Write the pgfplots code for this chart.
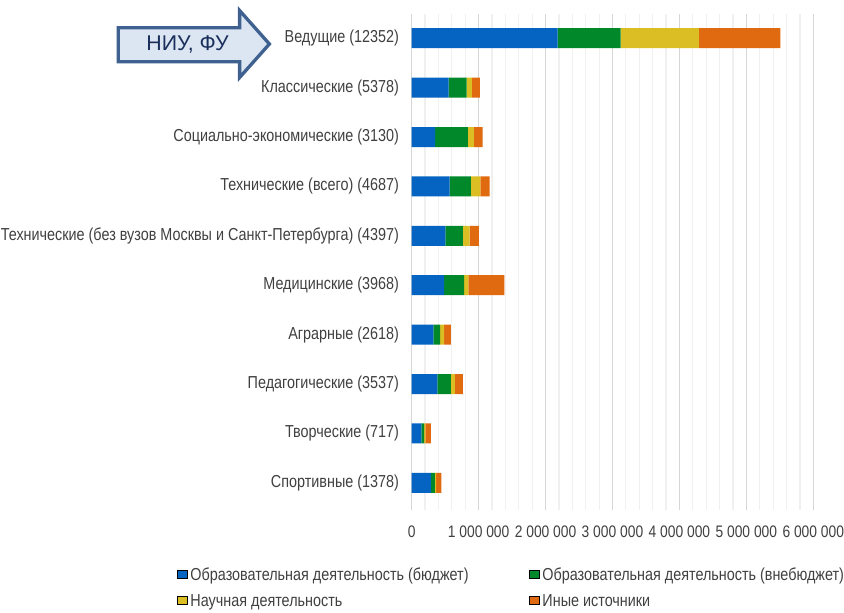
\documentclass[border=0pt]{standalone}
\usepackage{pgfplots}
\pgfplotsset{compat=1.18}
\usepackage{fontspec}
\setmainfont{Liberation Sans}[FakeStretch=0.83]
\newfontfamily\arrowfont{Liberation Sans}
\definecolor{cBlue}{HTML}{0563C1}
\definecolor{cGreen}{HTML}{00882B}
\definecolor{cYellow}{HTML}{DBBD24}
\definecolor{cOrange}{HTML}{E06A10}
\definecolor{lab}{HTML}{404040}
\definecolor{arrFill}{HTML}{DCE6F2}
\definecolor{arrDraw}{HTML}{3F6190}
\definecolor{arrText}{HTML}{1B2F5C}
\pgfplotsset{
  /pgfplots/xbar legend/.style={
    /pgfplots/legend image code/.code={%
      \path[##1,draw=none] (0pt,-2.25pt) rectangle (4.5pt,2.25pt);},
  },
}
\begin{document}
\begin{tikzpicture}
\begin{axis}[
  at={(308.775pt,-382.5pt)}, anchor=south west,
  scale only axis, width=301.2pt, height=372pt,
  xbar stacked, bar width=15pt,
  y dir=reverse,
  ymin=-0.49, ymax=9.55,
  xmin=0, xmax=6000000,
  ytick={0,1,2,3,4,5,6,7,8,9},
  yticklabels={Ведущие (12352),Классические (5378),Социально-экономические (3130),Технические (всего) (4687),Технические (без вузов Москвы и Санкт-Петербурга) (4397),Медицинские (3968),Аграрные (2618),Педагогические (3537),Творческие (717),Спортивные (1378)},
  xtick={0,1000000,2000000,3000000,4000000,5000000,6000000},
  xticklabels={0,1 000 000,2 000 000,3 000 000,4 000 000,5 000 000,6 000 000},
  scaled x ticks=false,
  minor x tick num=4,
  xmajorgrids, xminorgrids,
  major grid style={draw=black!16, line width=0.9pt},
  minor grid style={draw=black!6, line width=0.9pt},
  axis line style={draw=none},
  major tick style={draw=none}, minor tick style={draw=none},
  yticklabel style={font=\fontsize{13}{15}\selectfont, text=lab, xshift=-6pt},
  xticklabel style={font=\fontsize{12.5}{15}\selectfont, text=lab, yshift=-8pt},
  legend columns=2,
  legend cell align=left,
  legend style={at={(-0.596,-0.106)}, anchor=north west, draw=none, fill=none,
    font=\fontsize{13}{15}\selectfont, text=lab,
    /tikz/every even column/.append style={column sep=43pt},
    row sep=5pt},
]
\addplot[fill=cBlue, draw=none] coordinates {(2180000,0) (550000,1) (350000,2) (565000,3) (505000,4) (485000,5) (325000,6) (385000,7) (145000,8) (285000,9)};
\addlegendentry{Образовательная деятельность (бюджет)}
\addplot[fill=cGreen, draw=none] coordinates {(940000,0) (270000,1) (490000,2) (320000,3) (260000,4) (300000,5) (100000,6) (200000,7) (40000,8) (60000,9)};
\addlegendentry{Образовательная деятельность (внебюджет)}
\addplot[fill=cYellow, draw=none] coordinates {(1170000,0) (80000,1) (90000,2) (140000,3) (100000,4) (60000,5) (60000,6) (60000,7) (20000,8) (20000,9)};
\addlegendentry{Научная деятельность}
\addplot[fill=cOrange, draw=none] coordinates {(1220000,0) (120000,1) (130000,2) (140000,3) (140000,4) (540000,5) (100000,6) (120000,7) (80000,8) (80000,9)};
\addlegendentry{Иные источники}
\end{axis}
\begin{scope}[x=0.75pt,y=-0.75pt]
\draw[line width=2.5pt, draw=arrDraw, fill=arrFill, line join=miter]
  (118.3,27.7) -- (239.6,27.7) -- (239.6,10.5) -- (269.4,44) -- (239.6,77.5) -- (239.6,61.7) -- (118.3,61.7) -- cycle;
\node[text=arrText, font=\arrowfont\fontsize{16}{19}\selectfont] at (187.5,44) {НИУ, ФУ};
\end{scope}
\pgfresetboundingbox
\useasboundingbox (0,0) rectangle (633pt,-459pt);
\end{tikzpicture}
\end{document}
